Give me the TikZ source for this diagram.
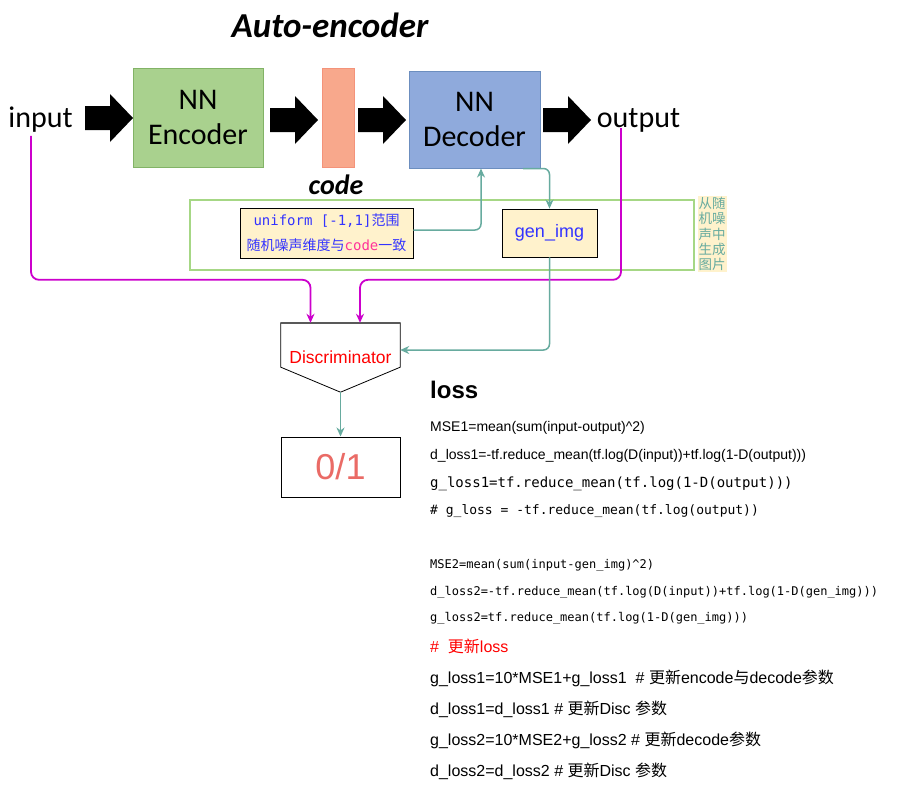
\documentclass[tikz,border=0pt]{standalone}
\usepackage{fontspec}
\setmainfont{Liberation Sans}
\newfontfamily\calfont{Carlito}
\newfontfamily\cjk{Noto Sans CJK SC}
\newfontfamily\codefont{DejaVu Sans Mono}
\usetikzlibrary{arrows.meta}
\definecolor{encfill}{HTML}{A9D18E}
\definecolor{encline}{HTML}{82B366}
\definecolor{codefill}{HTML}{F8A88C}
\definecolor{codeline}{HTML}{F4937A}
\definecolor{decfill}{HTML}{8FAADC}
\definecolor{decline}{HTML}{6C8EBF}
\definecolor{notefill}{HTML}{FFF2CC}
\definecolor{tealline}{HTML}{67AB9F}
\definecolor{magline}{HTML}{CC00CC}
\definecolor{noiseline}{HTML}{A6D785}
\definecolor{textblue}{HTML}{3333FF}
\definecolor{codepink}{HTML}{FF3399}
\definecolor{zeroone}{HTML}{EA6B66}
\newcommand\fatarrow[1]{\fill[black,shift={#1}] (0,-12) -- (25,-12) -- (25,-24) -- (48,0) -- (25,24) -- (25,12) -- (0,12) -- cycle;}

\begin{document}
\begin{tikzpicture}[x=1pt,y=-1pt,
    lbl/.style={inner sep=0,font=\calfont\fontsize{30}{35}\selectfont},
    nnbox/.style={line width=1,align=center,font=\calfont\fontsize{30}{35}\selectfont},
    note/.style={fill=notefill,line width=0.8},
    txt/.style={anchor=west,inner sep=0,font=\fontsize{16}{18}\selectfont},
    teal/.style={draw=tealline,line width=1.5,-{Stealth[length=9pt,width=8pt]},rounded corners=6},
    mag/.style={draw=magline,line width=1.8,-{Stealth[length=9pt,width=8pt]},rounded corners=8}]
  \useasboundingbox[fill=white] (0,0) rectangle (911,801);

  \node[font=\calfont\bfseries\itshape\fontsize{35}{40}\selectfont] (title) at (330,25) {Auto-encoder};
  \node[lbl] (input) at (40.5,120) {input};
  \node[nnbox,fill=encfill,draw=encline,minimum width=130,minimum height=99] (enc) at (198,117.5) {NN\\Encoder};
  \node[draw=codeline,fill=codefill,minimum width=32,minimum height=99,inner sep=0] (code) at (338,117.5) {};
  \node[font=\calfont\bfseries\itshape\fontsize{28}{32}\selectfont] (codelbl) at (336,185) {code};
  \node[nnbox,fill=decfill,draw=decline,minimum width=131,minimum height=97] (dec) at (474.5,119.5) {NN\\Decoder};
  \node[lbl] (output) at (638.5,120) {output};
  \fatarrow{(85,118)}
  \fatarrow{(270,120)}
  \fatarrow{(358,120)}
  \fatarrow{(543,120)}

  \node[draw=noiseline,line width=1.5,minimum width=504,minimum height=70] (noisebox) at (442,235) {};
  \node[note,text=tealline,inner sep=1,align=center,font=\cjk\fontsize{13.5}{15.4}\selectfont] (sidelbl) at (712,234) {从随\\机噪\\声中\\生成\\图片};
  \node[note,draw,minimum width=173,minimum height=50,align=center,text=textblue,font=\fontsize{14}{25}\selectfont] (noise) at (326.5,233)
    {{\codefont uniform [-1,1]}{\cjk 范围}\\{\cjk 随机噪声维度与}{\codefont\color{codepink}code}{\cjk 一致}};
  \node[note,draw,minimum width=95,minimum height=48,text=textblue,font=\fontsize{18}{20}\selectfont] (genimg) at (549.5,233) {gen\_img};

  \node[minimum width=119,minimum height=69,inner sep=0,text=red,font=\fontsize{17.5}{20}\selectfont] (disc) at (340.5,357.5) {Discriminator};
  \draw[line width=0.8] (disc.north west) -- (disc.north east) -- ([yshift=25pt]disc.south east) -- (disc.south) -- ([yshift=25pt]disc.south west) -- cycle;
  \draw[black!65,line width=1.5] (disc.north west) -- (disc.north east);
  \node[draw,line width=1,minimum width=119,minimum height=60,text=zeroone,font=\fontsize{36}{40}\selectfont] (result) at (340.5,467) {0/1};

  \draw[mag] ([xshift=-9.5pt,yshift=-3pt]input.south) |- ([xshift=-30pt,yshift=43pt]disc.north) -- ([xshift=-30pt]disc.north);
  \draw[mag] ([xshift=-17.5pt,yshift=4pt]output.south) |- ([xshift=19.5pt,yshift=43pt]disc.north) -- ([xshift=19.5pt]disc.north);
  \draw[teal] ([yshift=3pt]noise.east) -| ([xshift=6.5pt]dec.south);
  \draw[teal] ([xshift=48.5pt]dec.south) -| (genimg.north);
  \draw[teal] (genimg.south) |- ([yshift=7.5pt]disc.east);
  \draw[teal] (disc.south) -- (result.north);

  \node[txt,font=\bfseries\fontsize{24}{28}\selectfont] (loss) at (430,390) {loss};
  \node[txt,font=\fontsize{14}{16}\selectfont] (mse1) at (430,428) {MSE1=mean(sum(input-output)\textasciicircum 2)};
  \node[txt,font=\fontsize{14}{16}\selectfont] (dloss1) at (430,456) {d\_loss1=-tf.reduce\_mean(tf.log(D(input))+tf.log(1-D(output)))};
  \node[txt,font=\codefont\fontsize{14}{16}\selectfont] (gloss1) at (430,484) {g\_loss1=tf.reduce\_mean(tf.log(1-D(output)))};
  \node[txt,font=\codefont\fontsize{13}{15}\selectfont] (gloss) at (430,511) {\# g\_loss = -tf.reduce\_mean(tf.log(output))};
  \node[txt,font=\codefont\fontsize{12}{14}\selectfont] (mse2) at (430,565) {MSE2=mean(sum(input-gen\_img)\textasciicircum 2)};
  \node[txt,font=\codefont\fontsize{12}{14}\selectfont] (dloss2) at (430,592) {d\_loss2=-tf.reduce\_mean(tf.log(D(input))+tf.log(1-D(gen\_img)))};
  \node[txt,font=\codefont\fontsize{12}{14}\selectfont] (gloss2) at (430,618) {g\_loss2=tf.reduce\_mean(tf.log(1-D(gen\_img)))};
  \node[txt,text=red] (update) at (430,646) {\#\ \ {\cjk 更新}loss};
  \node[txt] (upd1) at (430,678) {g\_loss1=10*MSE1+g\_loss1\ \ \# {\cjk 更新}encode{\cjk 与}decode{\cjk 参数}};
  \node[txt] (upd2) at (430,709) {d\_loss1=d\_loss1 \# {\cjk 更新}Disc {\cjk 参数}};
  \node[txt] (upd3) at (430,740) {g\_loss2=10*MSE2+g\_loss2 \# {\cjk 更新}decode{\cjk 参数}};
  \node[txt] (upd4) at (430,771) {d\_loss2=d\_loss2 \# {\cjk 更新}Disc {\cjk 参数}};
\end{tikzpicture}
\end{document}
